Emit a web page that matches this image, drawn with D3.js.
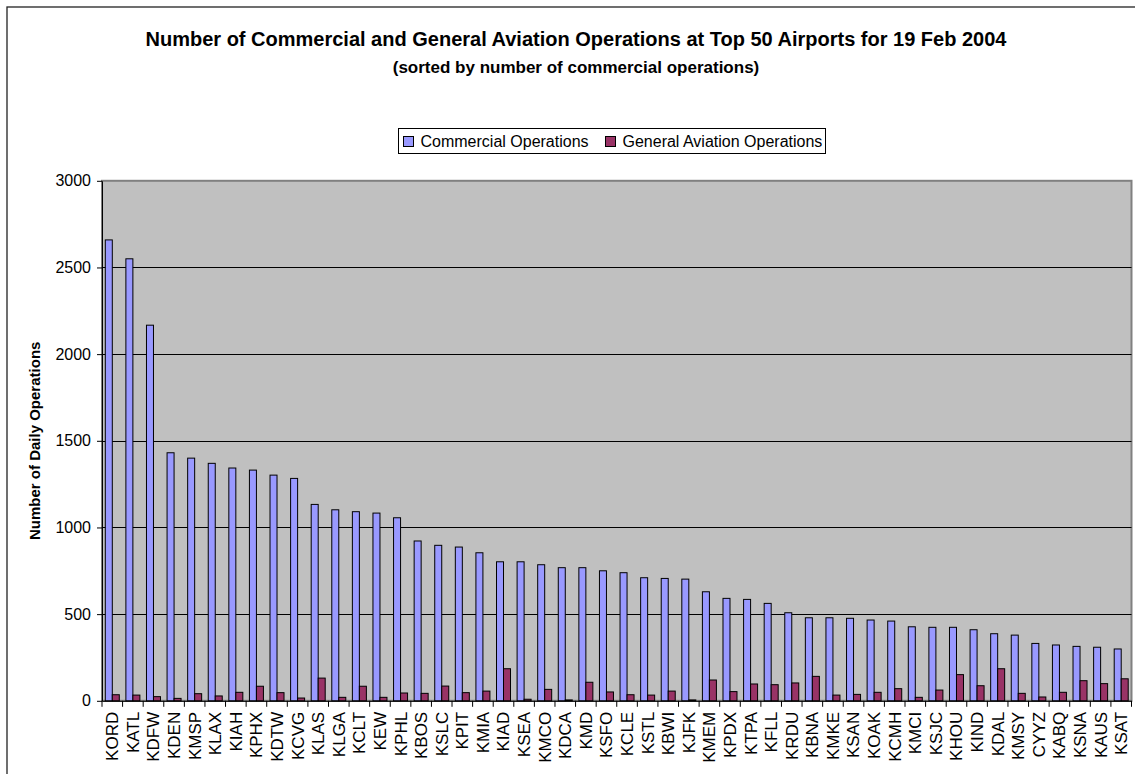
<!DOCTYPE html>
<html>
<head>
<meta charset="utf-8">
<script src="https://cdn.jsdelivr.net/npm/d3@7"></script>
<style>
  body { margin: 0; background: #fff; }
  svg { display: block; font-family: "Liberation Sans", Arial, sans-serif; }
</style>
</head>
<body>
<svg id="chart" width="1135" height="774"></svg>
<script>
const airports = ["KORD","KATL","KDFW","KDEN","KMSP","KLAX","KIAH","KPHX","KDTW","KCVG",
  "KLAS","KLGA","KCLT","KEW","KPHL","KBOS","KSLC","KPIT","KMIA","KIAD",
  "KSEA","KMCO","KDCA","KMD","KSFO","KCLE","KSTL","KBWI","KJFK","KMEM",
  "KPDX","KTPA","KFLL","KRDU","KBNA","KMKE","KSAN","KOAK","KCMH","KMCI",
  "KSJC","KHOU","KIND","KDAL","KMSY","CYYZ","KABQ","KSNA","KAUS","KSAT"];
const commercialOps = [2659,2550,2167,1431,1400,1370,1343,1331,1302,1283,
  1133,1102,1091,1083,1056,922,897,887,854,802,
  802,785,768,768,750,739,710,706,702,629,
  591,585,562,508,479,479,476,466,460,427,
  424,424,410,387,379,331,322,314,309,299];
const generalAviationOps = [35,33,24,14,41,28,49,84,47,16,
  131,20,84,20,45,43,85,47,56,185,
  9,66,5,107,51,35,33,56,5,120,
  53,97,93,103,141,33,37,49,70,20,
  62,151,87,185,43,22,49,116,99,127];
const seriesNames = ["Commercial Operations","General Aviation Operations"];
const seriesColors = ["#9999FF","#993366"];
const yTicks = [0,500,1000,1500,2000,2500,3000];

const svg = d3.select("#chart");
const pLeft = 102, pRight = 1131.5, pTop = 180.8, pBottom = 700.8;

// outer chart border
svg.append("rect").attr("x",7).attr("y",7).attr("width",1200).attr("height",900)
  .attr("fill","#fff").attr("stroke","#222").attr("stroke-width",1.3);

const x0 = d3.scaleBand().domain(airports).range([pLeft,pRight]).padding(0);
const x1 = d3.scaleBand().domain(seriesNames).range([x0.bandwidth()*0.16, x0.bandwidth()*0.84]).padding(0);
const y = d3.scaleLinear().domain([0,3000]).range([pBottom, pTop]);

// plot area
svg.append("rect").attr("x",pLeft).attr("y",pTop).attr("width",pRight-pLeft).attr("height",pBottom-pTop)
  .attr("fill","#C0C0C0").attr("stroke","#808080").attr("stroke-width",2);

// gridlines
svg.append("g").selectAll("line").data(yTicks.filter(d=>d>0 && d<3000)).join("line")
  .attr("x1",pLeft).attr("x2",pRight).attr("y1",d=>Math.round(y(d))+0.5).attr("y2",d=>Math.round(y(d))+0.5)
  .attr("stroke","#000").attr("stroke-width",1);

// bars
const data = airports.map((a,i)=>({a, vals:[commercialOps[i], generalAviationOps[i]]}));
const groups = svg.append("g").selectAll("g").data(data).join("g")
  .attr("transform",d=>`translate(${x0(d.a)},0)`);
groups.selectAll("rect").data(d=>d.vals.map((v,j)=>({v, s:seriesNames[j], c:seriesColors[j]}))).join("rect")
  .attr("x",d=>x1(d.s)).attr("width",x1.bandwidth())
  .attr("y",d=>y(d.v)).attr("height",d=>pBottom-y(d.v))
  .attr("fill",d=>d.c).attr("stroke","#000").attr("stroke-width",1);

// y axis
const yAxis = d3.axisLeft(y).tickValues(yTicks).tickFormat(d3.format("d"))
  .tickSize(5).tickSizeOuter(0).tickPadding(6);
const gy = svg.append("g").attr("transform",`translate(${pLeft},0)`).call(yAxis);
gy.select(".domain").attr("stroke","#000");
gy.selectAll("text").attr("font-size",16).attr("fill","#000").attr("font-family","Liberation Sans, Arial, sans-serif");

// x axis
const xAxis = d3.axisBottom(x0).tickSize(0).tickSizeOuter(0);
const gx = svg.append("g").attr("transform",`translate(0,${pBottom})`).call(xAxis);
gx.select(".domain").attr("stroke","#000");
gx.selectAll(".tick text").attr("font-size",17).attr("fill","#000")
  .attr("font-family","Liberation Sans, Arial, sans-serif")
  .attr("text-anchor","end").attr("transform","rotate(-90)")
  .attr("x",-11).attr("y",0).attr("dy","0.35em");
// category boundary ticks
gx.append("g").selectAll("line").data(d3.range(airports.length+1)).join("line")
  .attr("x1",i=>pLeft+x0.step()*i).attr("x2",i=>pLeft+x0.step()*i)
  .attr("y1",0).attr("y2",6).attr("stroke","#000");

// title
svg.append("text").attr("x",576).attr("y",46).attr("text-anchor","middle")
  .attr("font-size",20).attr("font-weight","bold")
  .text("Number of Commercial and General Aviation Operations at Top 50 Airports for 19 Feb 2004");
svg.append("text").attr("x",576).attr("y",73).attr("text-anchor","middle")
  .attr("font-size",17).attr("font-weight","bold")
  .text("(sorted by number of commercial operations)");

// y axis title
svg.append("text").attr("transform",`translate(40,${(pTop+pBottom)/2}) rotate(-90)`)
  .attr("text-anchor","middle").attr("font-size",15).attr("font-weight","bold")
  .text("Number of Daily Operations");

// legend
const lg = svg.append("g");
lg.append("rect").attr("x",398.5).attr("y",128.5).attr("width",427).attr("height",25)
  .attr("fill","#fff").attr("stroke","#000").attr("stroke-width",1);
const legendX = [403.5, 605.5];
seriesNames.forEach((s,i)=>{
  lg.append("rect").attr("x",legendX[i]).attr("y",136.5).attr("width",10).attr("height",10)
    .attr("fill",seriesColors[i]).attr("stroke","#000");
  lg.append("text").attr("x",legendX[i]+17).attr("y",147).attr("font-size",16).text(s);
});
</script>
</body>
</html>
